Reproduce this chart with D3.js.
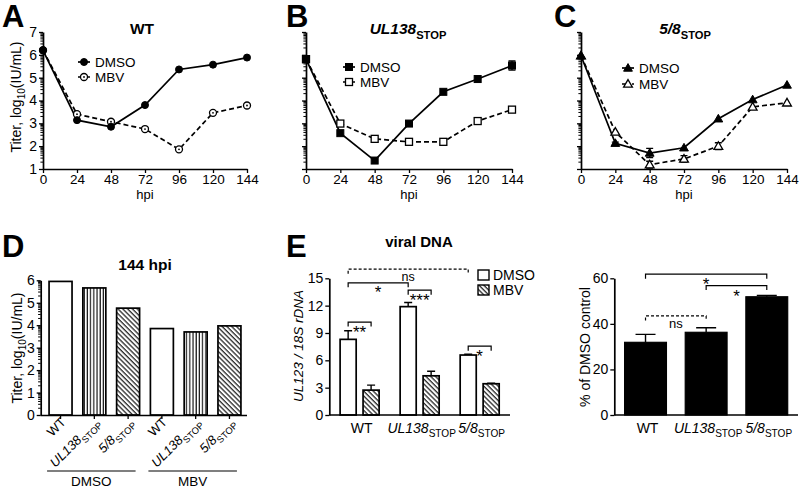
<!DOCTYPE html>
<html><head><meta charset="utf-8">
<script src="https://cdn.jsdelivr.net/npm/d3@7"></script>
<style>body{margin:0;background:#fff}svg{display:block}</style>
</head><body><svg id="c" width="800" height="489"></svg>
<script>
// ---------- DATA ----------
const hpi = [0, 24, 48, 72, 96, 120, 144];
const yTicksLine = [1, 2, 3, 4, 5, 6, 7];
const wtDMSO = [6.2, 3.14, 2.85, 3.8, 5.36, 5.57, 5.88];
const wtMBV = [6.2, 3.4, 3.07, 2.75, 1.86, 3.46, 3.78];
const ul138DMSO = [5.81, 2.57, 1.37, 2.99, 4.38, 4.94, 5.53];
const ul138DMSOErr = [0, 0, 0, 0, 0, 0, 0.2];
const ul138MBV = [5.81, 2.99, 2.32, 2.19, 2.19, 3.1, 3.6];
const s58DMSO = [5.96, 2.13, 1.7, 1.93, 3.2, 4.04, 4.68];
const s58DMSOErr = [0, 0.05, 0.2, 0, 0, 0, 0];
const s58MBV = [5.96, 2.62, 1.19, 1.44, 2.0, 3.72, 3.9];
const s58MBVErr = [0, 0, 0.15, 0.15, 0.15, 0, 0];

const strains = ["WT", "UL138", "5/8"];
const treatments = ["DMSO", "MBV"];
const titer144DMSO = [5.95, 5.66, 4.76];
const titer144MBV = [3.85, 3.7, 3.97];
const yTicksD = [0, 1, 2, 3, 4, 5, 6];

const dnaDMSO = [8.3, 11.89, 6.58];
const dnaDMSOErr = [0.95, 0.45, 0.08];
const dnaMBV = [2.73, 4.3, 3.43];
const dnaMBVErr = [0.55, 0.5, 0.05];
const yTicksDNA = [0, 3, 6, 9, 12, 15];

const pctDMSO = [31.9, 36.3, 51.9];
const pctErr = [3.5, 2.0, 0.6];
const yTicksPct = [0, 20, 40, 60];

const dnaSig = [
  {a: ["WT", "DMSO"], b: ["5/8", "DMSO"], level: 16.0, label: "ns", dashed: true},
  {a: ["WT", "DMSO"], b: ["UL138", "DMSO"], level: 14.5, label: "*"},
  {a: ["UL138", "DMSO"], b: ["UL138", "MBV"], level: 13.7, label: "***"},
  {a: ["WT", "DMSO"], b: ["WT", "MBV"], level: 10.2, label: "**"},
  {a: ["5/8", "DMSO"], b: ["5/8", "MBV"], level: 7.55, label: "*"}
];
const pctSig = [
  {a: "WT", b: "5/8", level: 61.8, label: "*"},
  {a: "UL138", b: "5/8", level: 56.8, label: "*"},
  {a: "WT", b: "UL138", level: 43.5, label: "ns", dashed: true}
];

const strainLabel = {
  "WT": [{t: "WT"}],
  "UL138": [{t: "UL138", i: true}, {t: "STOP", sub: true}],
  "5/8": [{t: "5/8", i: true}, {t: "STOP", sub: true}]
};

// ---------- HELPERS ----------
const FONT = "'Liberation Sans', Arial, Helvetica, sans-serif";
const svg = d3.select("#c").attr("font-family", FONT);
svg.append("rect").attr("width", 800).attr("height", 489).attr("fill", "#fff");

const defs = svg.append("defs");
const vp = defs.append("pattern").attr("id", "vstripe").attr("patternUnits", "userSpaceOnUse")
  .attr("width", 3.2).attr("height", 4);
vp.append("rect").attr("width", 3.2).attr("height", 4).attr("fill", "#fff");
vp.append("line").attr("x1", 1).attr("x2", 1).attr("y1", 0).attr("y2", 4).attr("stroke", "#000").attr("stroke-width", 1.1);
const dp = defs.append("pattern").attr("id", "hatch").attr("patternUnits", "userSpaceOnUse")
  .attr("width", 3.4).attr("height", 4).attr("patternTransform", "rotate(-45)");
dp.append("rect").attr("width", 3.4).attr("height", 4).attr("fill", "#fff");
dp.append("line").attr("x1", 1).attr("x2", 1).attr("y1", 0).attr("y2", 4).attr("stroke", "#000").attr("stroke-width", 1.1);

function rich(sel, parts, size) {
  let shift = 0;
  parts.forEach(p => {
    const t = sel.append("tspan").text(p.t);
    const target = p.sub ? size * 0.32 : 0;
    if (target !== shift) { t.attr("dy", target - shift); shift = target; }
    t.attr("font-size", p.sub ? size * 0.72 : size);
    if (p.i) t.attr("font-style", "italic");
    if (p.b) t.attr("font-weight", "bold");
  });
  return sel;
}

function styleAxis(sel, fs) {
  sel.attr("font-family", FONT).attr("font-size", fs);
  sel.select(".domain").attr("stroke-width", 1.7).attr("stroke", "#000");
  sel.selectAll(".tick line").attr("stroke-width", 1.3).attr("stroke", "#000");
  sel.selectAll(".tick text").attr("fill", "#000");
}

function minorLog(g, y, x0, from, to) {
  for (let n = from; n < to; n++) {
    for (let k = 2; k <= 9; k++) {
      const v = n + Math.log10(k);
      g.append("line").attr("x1", x0 - 2.6).attr("x2", x0).attr("y1", y(v)).attr("y2", y(v))
        .attr("stroke", "#000").attr("stroke-width", 1);
    }
  }
}

function marker(g, type, filled, cx, cy) {
  let el;
  if (type === "circle") el = g.append("circle").attr("cx", cx).attr("cy", cy).attr("r", 3.5);
  else if (type === "square") el = g.append("rect").attr("x", cx - 3.5).attr("y", cy - 3.5).attr("width", 7).attr("height", 7);
  else el = g.append("path").attr("d", `M${cx},${cy - 4.4}L${cx + 4.4},${cy + 3.2}L${cx - 4.4},${cy + 3.2}Z`);
  el.attr("fill", filled ? "#000" : "#fff").attr("stroke", "#000").attr("stroke-width", filled ? 1 : 1.3);
  if (!filled && type === "circle") g.append("circle").attr("cx", cx).attr("cy", cy).attr("r", 0.9).attr("fill", "#000");
}

function letter(ch, x, y) {
  svg.append("text").attr("x", x).attr("y", y).attr("font-size", 31).attr("font-weight", "bold").text(ch);
}

function bracket(g, xa, xb, ly, label, dashed, fs, starOff) {
  g.append("path").attr("d", `M${xa},${ly + 4.5}V${ly}H${xb}V${ly + 4.5}`)
    .attr("fill", "none").attr("stroke", "#000").attr("stroke-width", 1.2)
    .attr("stroke-dasharray", dashed ? "3,2" : null);
  const isStar = label.indexOf("*") >= 0;
  g.append("text").attr("x", (xa + xb) / 2).attr("y", ly + (isStar ? starOff : 12))
    .attr("text-anchor", "middle").attr("font-size", isStar ? 17 : fs).text(label);
}

// ---------- LINE PANELS (A, B, C) ----------
function linePanel(o) {
  const x = d3.scaleLinear().domain([0, 144]).range([o.x0, o.x1]);
  const y = d3.scaleLinear().domain([1, 7]).range([169, 32]);
  const g = svg.append("g");
  const ya = g.append("g").attr("transform", `translate(${o.x0},0)`)
    .call(d3.axisLeft(y).tickValues(yTicksLine).tickSize(4).tickSizeOuter(0).tickPadding(2)
      .tickFormat(o.yLabels ? d3.format("d") : ""));
  styleAxis(ya, 14);
  minorLog(g, y, o.x0, 1, 7);
  const xa = g.append("g").attr("transform", "translate(0,169)")
    .call(d3.axisBottom(x).tickValues(hpi).tickSize(4).tickSizeOuter(0).tickPadding(1));
  styleAxis(xa, 13.5);
  g.append("text").attr("x", (o.x0 + o.x1) / 2).attr("y", 198.5).attr("text-anchor", "middle")
    .attr("font-size", 13).text("hpi");
  const t = g.append("text").attr("x", o.titleX).attr("y", 34).attr("text-anchor", "middle").attr("font-weight", "bold");
  rich(t, o.title, 15.5);

  const line = d3.line().x((d, i) => x(hpi[i])).y(d => y(d));
  const series = [
    {v: o.mbv, err: o.mbvErr, filled: false, dash: "5,3"},
    {v: o.dmso, err: o.dmsoErr, filled: true, dash: null}
  ];
  series.forEach(s => {
    g.append("path").datum(s.v).attr("d", line).attr("fill", "none").attr("stroke", "#000")
      .attr("stroke-width", 1.7).attr("stroke-dasharray", s.dash);
  });
  series.forEach(s => {
    s.v.forEach((v, i) => {
      const e = s.err ? s.err[i] : 0;
      if (e > 0) {
        const cx = x(hpi[i]);
        g.append("path").attr("d", `M${cx - 3.5},${y(v + e)}H${cx + 3.5}M${cx},${y(v + e)}V${y(v - e)}M${cx - 3.5},${y(v - e)}H${cx + 3.5}`)
          .attr("stroke", "#000").attr("stroke-width", 1.3).attr("fill", "none");
      }
      marker(g, o.marker, s.filled, x(hpi[i]), y(v));
    });
  });
  // legend
  [["DMSO", true, null, o.ly1], ["MBV", false, "3,2", o.ly2]].forEach(([name, filled, dash, ly]) => {
    g.append("line").attr("x1", o.lx - 6).attr("x2", o.lx + 6).attr("y1", ly).attr("y2", ly)
      .attr("stroke", "#000").attr("stroke-width", 1.7).attr("stroke-dasharray", dash);
    marker(g, o.marker, filled, o.lx, ly);
    g.append("text").attr("x", o.lx + 11).attr("y", ly + 5).attr("font-size", 13.5).text(name);
  });
}

linePanel({x0: 43, x1: 247, yLabels: true, title: [{t: "WT"}], titleX: 142,
  dmso: wtDMSO, mbv: wtMBV, marker: "circle", lx: 84, ly1: 62, ly2: 77});
linePanel({x0: 306, x1: 512, yLabels: false, title: [{t: "UL138", i: true}, {t: "STOP", sub: true}], titleX: 408,
  dmso: ul138DMSO, dmsoErr: ul138DMSOErr, mbv: ul138MBV, marker: "square", lx: 349, ly1: 67, ly2: 82});
linePanel({x0: 581, x1: 787, yLabels: false, title: [{t: "5/8", i: true}, {t: "STOP", sub: true}], titleX: 685,
  dmso: s58DMSO, dmsoErr: s58DMSOErr, mbv: s58MBV, mbvErr: s58MBVErr, marker: "triangle", lx: 628, ly1: 68, ly2: 84});

// y label A
rich(svg.append("text").attr("transform", "translate(21,97) rotate(-90)").attr("text-anchor", "middle"),
  [{t: "Titer, log"}, {t: "10", sub: true}, {t: "(IU/mL)"}], 14);

letter("A", 2, 27);
letter("B", 286, 27);
letter("C", 554, 27);

// ---------- PANEL D ----------
(function () {
  const g = svg.append("g");
  const keys = [];
  treatments.forEach(tr => strains.forEach(s => keys.push(tr + "|" + s)));
  const vals = titer144DMSO.concat(titer144MBV);
  const x = d3.scaleBand().domain(keys).range([44, 246]).paddingInner(0.32).paddingOuter(0.15);
  const y = d3.scaleLinear().domain([0, 6]).range([415, 280.3]);
  const fills = {"WT": "#fff", "UL138": "url(#vstripe)", "5/8": "url(#hatch)"};
  keys.forEach((k, i) => {
    const s = k.split("|")[1];
    g.append("rect").attr("x", x(k)).attr("width", x.bandwidth()).attr("y", y(vals[i]))
      .attr("height", y(0) - y(vals[i])).attr("fill", fills[s]).attr("stroke", "#000").attr("stroke-width", 1.7);
  });
  const ya = g.append("g").attr("transform", "translate(40.7,0)")
    .call(d3.axisLeft(y).tickValues(yTicksD).tickSize(4).tickSizeOuter(0).tickPadding(2).tickFormat(d3.format("d")));
  styleAxis(ya, 14);
  minorLog(g, y, 40.7, 0, 6);
  const xa = g.append("g").attr("transform", "translate(0,415)")
    .call(d3.axisBottom(x).tickSize(4).tickSizeOuter(0).tickFormat(""));
  xa.select(".domain").attr("d", "M40.7,0.5H247");
  styleAxis(xa, 12);
  keys.forEach(k => {
    const s = k.split("|")[1];
    const cx = x(k) + x.bandwidth() / 2;
    rich(g.append("text").attr("text-anchor", "end").attr("transform", `translate(${cx + 6},423) rotate(-45)`),
      strainLabel[s], 13);
  });
  treatments.forEach(tr => {
    const a = x(tr + "|WT") - 2, b = x(tr + "|5/8") + x.bandwidth() - 4;
    g.append("line").attr("x1", a).attr("x2", b).attr("y1", 471).attr("y2", 471).attr("stroke", "#000").attr("stroke-width", 1.2);
    g.append("text").attr("x", (a + b) / 2).attr("y", 485.5).attr("text-anchor", "middle").attr("font-size", 13.5).text(tr);
  });
  g.append("text").attr("x", 145).attr("y", 270).attr("text-anchor", "middle").attr("font-weight", "bold")
    .attr("font-size", 15.5).text("144 hpi");
  rich(g.append("text").attr("transform", "translate(22,348) rotate(-90)").attr("text-anchor", "middle"),
    [{t: "Titer, log"}, {t: "10", sub: true}, {t: "(IU/mL)"}], 14);
})();
letter("D", 2, 257);

// ---------- PANEL E (left) ----------
(function () {
  const g = svg.append("g");
  const x0 = d3.scaleBand().domain(strains).range([329.3, 510]).paddingInner(0.35).paddingOuter(0.18);
  const x1 = d3.scaleBand().domain(treatments).range([0, x0.bandwidth()]).paddingInner(0.3);
  const y = d3.scaleLinear().domain([0, 15]).range([415, 278.3]);
  const vals = {DMSO: dnaDMSO, MBV: dnaMBV}, errs = {DMSO: dnaDMSOErr, MBV: dnaMBVErr};
  const fills = {DMSO: "#fff", MBV: "url(#hatch)"};
  strains.forEach((s, i) => {
    treatments.forEach(tr => {
      const v = vals[tr][i], e = errs[tr][i];
      const bx = x0(s) + x1(tr), bw = x1.bandwidth(), cx = bx + bw / 2;
      g.append("path").attr("d", `M${cx},${y(v)}V${y(v + e)}M${cx - 4},${y(v + e)}H${cx + 4}`)
        .attr("stroke", "#000").attr("stroke-width", 1.4);
      g.append("rect").attr("x", bx).attr("width", bw).attr("y", y(v)).attr("height", y(0) - y(v))
        .attr("fill", fills[tr]).attr("stroke", "#000").attr("stroke-width", 1.7);
    });
    rich(g.append("text").attr("x", x0(s) + x0.bandwidth() / 2 + 2).attr("y", 433).attr("text-anchor", "middle"),
      strainLabel[s], 14);
  });
  const ya = g.append("g").attr("transform", "translate(329.3,0)")
    .call(d3.axisLeft(y).tickValues(yTicksDNA).tickSize(4).tickSizeOuter(0).tickPadding(2).tickFormat(d3.format("d")));
  styleAxis(ya, 14);
  g.append("line").attr("x1", 329.3).attr("x2", 510).attr("y1", 415).attr("y2", 415).attr("stroke", "#000").attr("stroke-width", 1.7);
  const cxOf = ([s, tr]) => x0(s) + x1(tr) + x1.bandwidth() / 2;
  dnaSig.forEach(d => bracket(g, cxOf(d.a), cxOf(d.b), y(d.level), d.label, d.dashed, 12.5, 15.5));
  // legend
  treatments.forEach((tr, i) => {
    const ly = 270 + i * 15;
    g.append("rect").attr("x", 478).attr("y", ly).attr("width", 11).attr("height", 10)
      .attr("fill", fills[tr]).attr("stroke", "#000").attr("stroke-width", 1.4);
    g.append("text").attr("x", 493).attr("y", ly + 9.5).attr("font-size", 14).text(tr);
  });
  g.append("text").attr("x", 419).attr("y", 247).attr("text-anchor", "middle").attr("font-weight", "bold")
    .attr("font-size", 15).text("viral DNA");
  rich(g.append("text").attr("transform", "translate(303,346) rotate(-90)").attr("text-anchor", "middle"),
    [{t: "UL123 / 18S rDNA", i: true}], 13.5);
})();
letter("E", 286, 257);

// ---------- PANEL E (right) ----------
(function () {
  const g = svg.append("g");
  const x = d3.scaleBand().domain(strains).range([614.3, 798]).paddingInner(0.31).paddingOuter(0.17);
  const y = d3.scaleLinear().domain([0, 60]).range([415, 278.3]);
  strains.forEach((s, i) => {
    const v = pctDMSO[i], e = pctErr[i], bx = x(s), bw = x.bandwidth(), cx = bx + bw / 2;
    g.append("path").attr("d", `M${cx},${y(v)}V${y(v + e)}M${cx - 10},${y(v + e)}H${cx + 10}`)
      .attr("stroke", "#000").attr("stroke-width", 1.4);
    g.append("rect").attr("x", bx).attr("width", bw).attr("y", y(v)).attr("height", y(0) - y(v))
      .attr("fill", "#000").attr("stroke", "#000").attr("stroke-width", 1.2);
    rich(g.append("text").attr("x", cx + 2).attr("y", 433).attr("text-anchor", "middle"), strainLabel[s], 14);
  });
  const ya = g.append("g").attr("transform", "translate(614.3,0)")
    .call(d3.axisLeft(y).tickValues(yTicksPct).tickSize(4).tickSizeOuter(0).tickPadding(2).tickFormat(d3.format("d")));
  styleAxis(ya, 14);
  g.append("line").attr("x1", 614.3).attr("x2", 798).attr("y1", 415).attr("y2", 415).attr("stroke", "#000").attr("stroke-width", 1.7);
  const cxOf = s => x(s) + x.bandwidth() / 2;
  pctSig.forEach(d => bracket(g, cxOf(d.a), cxOf(d.b), y(d.level), d.label, d.dashed, 13, 16));
  g.append("text").attr("transform", "translate(590,347) rotate(-90)").attr("text-anchor", "middle")
    .attr("font-size", 14).text("% of DMSO control");
})();
</script></body></html>
